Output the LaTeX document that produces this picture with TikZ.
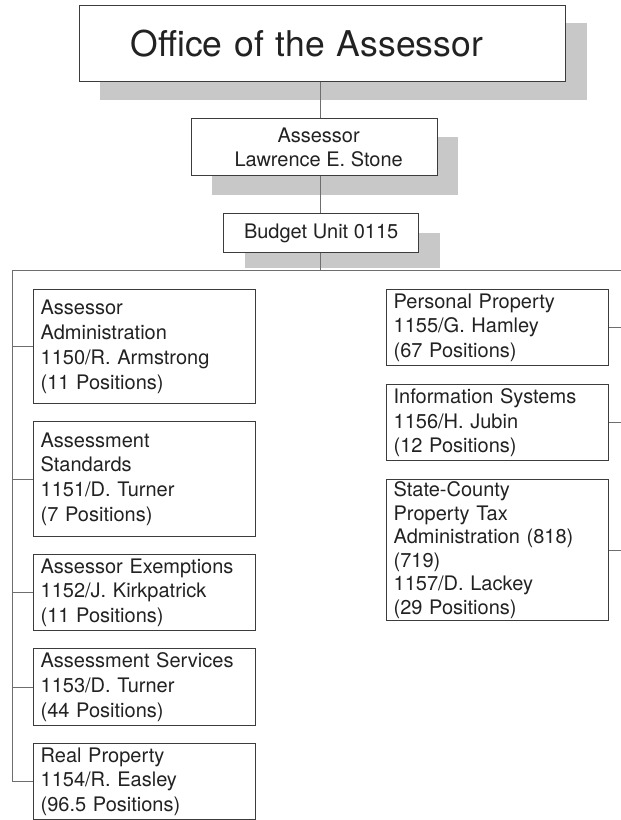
\documentclass[tikz,border=0pt]{standalone}
\usepackage{fontspec}
\setmainfont{TeX Gyre Heros}
\definecolor{ink}{HTML}{222222}
\definecolor{frame}{HTML}{3C3C3C}
\definecolor{wire}{HTML}{6E6E6E}
\definecolor{shadowgray}{HTML}{C8C8C8}
\begin{document}
\begin{tikzpicture}[x=1pt,y=1pt,
  unitbox/.style={draw=frame, line width=1.3pt, fill=white, text=ink,
    anchor=north west, inner xsep=7pt, inner ysep=0pt, align=left,
    text width=208pt, font=\fontsize{20}{24.8}\selectfont},
  headbox/.style={draw=frame, line width=1.3pt, fill=white, text=ink,
    anchor=north west, inner sep=0pt, align=center,
    font=\fontsize{20}{24}\selectfont},
  link/.style={draw=wire, line width=1pt},
  dropshade/.style={fill=shadowgray, draw=none}]
\useasboundingbox (0,0) rectangle (621,-820);

% drop shadows behind the three header boxes
\fill[dropshade] (100,-23) rectangle (587,-100);
\fill[dropshade] (212,-137) rectangle (458,-195);
\fill[dropshade] (245,-233) rectangle (440,-268);

% header boxes
\node[draw=frame, line width=1.3pt, fill=white, text=ink, anchor=north west,
      minimum width=486pt, minimum height=76pt, inner xsep=51pt, inner ysep=0pt,
      text width=384pt, align=left, font=\fontsize{35.5}{40}\selectfont]
      (title) at (79,-5) {Office of the Assessor};
\node[headbox, minimum width=246pt, minimum height=57pt]
      (assessor) at (191,-118) {\hspace*{8pt}Assessor\\\hspace*{8pt}Lawrence E. Stone};
\node[headbox, minimum width=195pt, minimum height=39pt]
      (budget) at (223,-213) {Budget Unit 0115};

% trunk and bus coordinates
\coordinate (trunk) at (320,0);
\coordinate (busmid) at (320,-270);
\coordinate (busleft) at (12.5,-270);
\coordinate (busright) at (621,-270);
\coordinate (rightedge) at (621,0);

% left column
\node[unitbox, minimum height=114pt] (adm) at (33,-289)
  {Assessor\\Administration\\1150/R. Armstrong\\(11 Positions)};
\node[unitbox, minimum height=115pt] (std) at (33,-421)
  {Assessment\\Standards\\1151/D. Turner\\(7 Positions)};
\node[unitbox, minimum height=76pt] (exm) at (33,-554)
  {Assessor Exemptions\\1152/J. Kirkpatrick\\(11 Positions)};
\node[unitbox, minimum height=77pt] (svc) at (33,-648)
  {Assessment Services\\1153/D. Turner\\(44 Positions)};
\node[unitbox, minimum height=76pt] (real) at (33,-743)
  {Real Property\\1154/R. Easley\\(96.5 Positions)};

% right column
\node[unitbox, minimum height=76pt] (pers) at (386,-289)
  {Personal Property\\1155/G. Hamley\\(67 Positions)};
\node[unitbox, minimum height=76pt] (info) at (386,-384)
  {Information Systems\\1156/H. Jubin\\(12 Positions)};
\node[unitbox, minimum height=141pt, font=\fontsize{20}{23.6}\selectfont] (sctax) at (386,-479)
  {State-County\\Property Tax\\Administration (818)\\(719)\\1157/D. Lackey\\(29 Positions)};

% connectors down the centre
\draw[link] (title.south -| trunk) -- (assessor.north -| trunk);
\draw[link] (assessor.south -| trunk) -- (budget.north -| trunk);
\draw[link] (budget.south -| trunk) -- (busmid);
\draw[link] (busleft) -- (busright);

% left trunk and stubs
\draw[link] (busleft) -- (real.west -| busleft);
\foreach \n in {adm,std,exm,svc,real}
  \draw[link] (\n.west) -- (\n.west -| busleft);

% right stubs to the page edge
\foreach \n in {pers,info,sctax}
  \draw[link] (\n.east) -- (\n.east -| rightedge);
\end{tikzpicture}
\end{document}
